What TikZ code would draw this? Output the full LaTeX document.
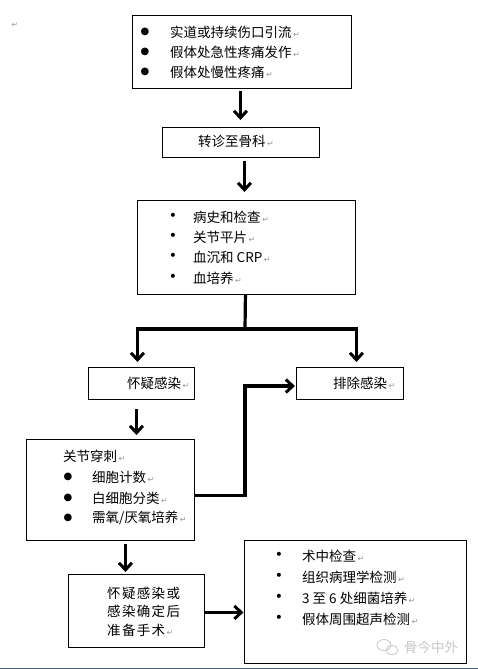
\documentclass[tikz,border=0pt]{standalone}
\usepackage{fontspec}
\setmainfont{Noto Sans CJK SC}
\newfontfamily\dejavu{DejaVu Sans}
\newfontfamily\spaced[LetterSpace=10]{Noto Sans CJK SC}
\usetikzlibrary{arrows.meta}
\definecolor{rmark}{RGB}{150,150,150}
\definecolor{wm}{RGB}{200,200,200}
\definecolor{bar}{RGB}{72,96,118}
\newcommand\rmk{{\dejavu\color{rmark}\fontsize{8}{8}\selectfont\,↵}}
\newcommand\bigbul{{\dejavu\fontsize{10}{10}\selectfont ●}}
\newcommand\smbul{{\dejavu\fontsize{14}{14}\selectfont •}}
\tikzset{
  x=1pt, y=-1pt,
  box/.style={draw=black, line width=0.9pt, anchor=north west, inner sep=0pt, fill=white},
  txt/.style={anchor=west, inner sep=0pt, font=\fontsize{13.5}{14}\selectfont},
  bul/.style={anchor=center, inner sep=0pt},
  arr/.style={line width=3.2pt, line join=miter, -{Straight Barb[length=7pt,width=13pt,line width=3pt]}},
  trunk/.style={line width=3.2pt},
}
\begin{document}
\begin{tikzpicture}
\useasboundingbox (0,0) rectangle (478,669);
\fill[white] (0,0) rectangle (478,669);
% boxes
\node[box, minimum width=219pt, minimum height=73pt] (b1) at (132,15) {};
\node[box, minimum width=157pt, minimum height=30pt] (b2) at (162,127) {};
\node[box, minimum width=218pt, minimum height=94pt] (b3) at (137,200) {};
\node[box, minimum width=106pt, minimum height=32pt] (b4) at (88,367) {};
\node[box, minimum width=107pt, minimum height=32pt] (b5) at (296,367) {};
\node[box, minimum width=168pt, minimum height=101pt] (b6) at (26,439) {};
\node[box, minimum width=136pt, minimum height=73pt] (b7) at (68,574) {};
\node[box, minimum width=222pt, minimum height=123pt] (b8) at (244,540) {};
% top-left mark
\node[bul] (m0) at (14,25) {\rmk};
% box 1 text
\node[bul] (b1p1) at (145,32) {\bigbul};
\node[bul] (b1p2) at (145,52) {\bigbul};
\node[bul] (b1p3) at (145,72) {\bigbul};
\node[txt] (b1t1) at (170,32) {实道或持续伤口引流\rmk};
\node[txt] (b1t2) at (170,52) {假体处急性疼痛发作\rmk};
\node[txt] (b1t3) at (170,72) {假体处慢性疼痛\rmk};
% box 2
\node[txt] (b2t) at (198,141) {转诊至骨科\rmk};
% box 3
\node[bul] (b3p1) at (173,217) {\smbul};
\node[bul] (b3p2) at (173,237) {\smbul};
\node[bul] (b3p3) at (173,257) {\smbul};
\node[bul] (b3p4) at (173,278) {\smbul};
\node[txt] (b3t1) at (193,217) {病史和检查\rmk};
\node[txt] (b3t2) at (193,237) {关节平片\rmk};
\node[txt] (b3t3) at (193,257) {血沉和 CRP\rmk};
\node[txt] (b3t4) at (193,278) {血培养\rmk};
% box 4/5
\node[txt] (b4t) at (127,383) {怀疑感染\rmk};
\node[txt] (b5t) at (333,383) {排除感染\rmk};
% box 6
\node[txt] (b6t0) at (63,456) {关节穿刺\rmk};
\node[bul] (b6p1) at (68,477) {\bigbul};
\node[bul] (b6p2) at (68,498) {\bigbul};
\node[bul] (b6p3) at (68,518) {\bigbul};
\node[txt] (b6t1) at (92,477) {细胞计数\rmk};
\node[txt] (b6t2) at (92,498) {白细胞分类\rmk};
\node[txt] (b6t3) at (92,518) {需氧/厌氧培养\rmk};
% box 7
\node[txt] (b7t1) at (107,593) {\spaced 怀疑感染或};
\node[txt] (b7t2) at (107,611) {\spaced 感染确定后};
\node[txt] (b7t3) at (107,630) {\spaced 准备手术\rmk};
% box 8
\node[bul] (b8p1) at (279,556) {\smbul};
\node[bul] (b8p2) at (279,577) {\smbul};
\node[bul] (b8p3) at (279,598) {\smbul};
\node[bul] (b8p4) at (279,619) {\smbul};
\node[txt] (b8t1) at (302,556) {术中检查\rmk};
\node[txt] (b8t2) at (302,577) {组织病理学检测\rmk};
\node[txt] (b8t3) at (302,598) {3 至 6 处细菌培养\rmk};
\node[txt] (b8t4) at (302,619) {假体周围超声检测\rmk};
% connectors
\draw[arr, shorten <=2pt, shorten >=7pt] ([xshift=-1.5pt]b1.south) -- ([xshift=-1.5pt]b1.south |- b2.north);
\draw[arr, shorten <=3pt, shorten >=8pt] ([xshift=3.5pt]b2.south) -- ([xshift=3.5pt]b2.south |- b3.north);
\coordinate (j) at (245,329);
\draw[trunk] ([xshift=-1pt]b3.south) -- (j);
\draw[arr, shorten >=5pt] (j) -| ([xshift=-4pt]b4.north);
\draw[arr, shorten >=5pt] (j) -| ([xshift=6.5pt]b5.north);
\draw[arr, shorten <=9pt, shorten >=4pt] ([xshift=-5pt]b4.south) -- ([xshift=-5pt]b4.south |- b6.north);
\coordinate (k) at (245,386);
\draw[arr, shorten >=1pt] ([yshift=-5.5pt]b6.east) -| (k) -- (k -| b5.west);
\draw[arr, shorten <=3pt, shorten >=2pt] ([xshift=-11pt]b7.north |- b6.south) -- ([xshift=-11pt]b7.north);
\draw[arr, shorten >=0.5pt] ([yshift=-1.5pt]b7.east) -- ([yshift=-1.5pt]b7.east -| b8.west);
% watermark
\draw[wm, line width=0.8pt] (384,645) ellipse [x radius=7, y radius=5.5];
\draw[wm, line width=0.8pt] (392,650) ellipse [x radius=6, y radius=4.5];
\node[txt, text=wm] (wmt) at (404,647) {骨今中外};
% bottom bar
\fill[bar] (0,667.5) rectangle (478,669);
\end{tikzpicture}
\end{document}
